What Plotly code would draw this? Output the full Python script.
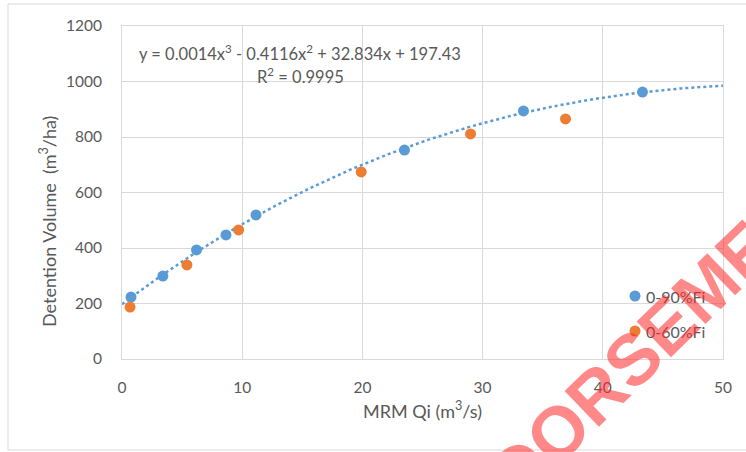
import numpy as np
import plotly.graph_objects as go

# Data
qi_90 = [0.75, 3.4, 6.2, 8.65, 11.15, 23.5, 33.4, 43.3]
vol_90 = [223, 299, 393, 447, 519, 753, 894, 962]
qi_60 = [0.67, 5.4, 9.7, 19.9, 29.0, 36.9]
vol_60 = [187, 339, 465, 674, 811, 865]
# Trendline coefficients (cubic, from the chart's equation)
trend_coef = [0.0014, -0.4116, 32.834, 197.43]
trend_range = [0, 50]

BLUE = "#5B9BD5"
ORANGE = "#ED7D31"
GRID = "#d9d9d9"
TXT = "#595959"
FONT = "Lato"

xt = np.linspace(trend_range[0], trend_range[1], 200)
yt = np.polyval(trend_coef, xt)

fig = go.Figure()
fig.add_trace(go.Scatter(x=xt, y=yt, mode="lines",
                         line=dict(color=BLUE, width=2.5, dash="dot"),
                         showlegend=False, hoverinfo="skip"))
fig.add_trace(go.Scatter(x=qi_90, y=vol_90, mode="markers", name="0-90%Fi",
                         marker=dict(color=BLUE, size=11), showlegend=False))
fig.add_trace(go.Scatter(x=qi_60, y=vol_60, mode="markers", name="0-60%Fi",
                         marker=dict(color=ORANGE, size=11), showlegend=False))

L, R, T, B = 122, 23, 26, 93
W, H = 746, 452
pw, ph = W - L - R, H - T - B

def px(xp):
    return (xp - L) / pw

def py(yp):
    return (H - B - yp) / ph

shapes = []
annotations = []
# Outer chart border
shapes.append(dict(type="rect", xref="paper", yref="paper",
                   x0=px(8), x1=px(760), y0=py(450), y1=py(4),
                   line=dict(color=GRID, width=1), fillcolor="rgba(0,0,0,0)", layer="below"))
# Manual legend
for name, col, yy in [("0-90%Fi", BLUE, 296), ("0-60%Fi", ORANGE, 331)]:
    shapes.append(dict(type="circle", xref="paper", yref="paper",
                       xsizemode="pixel", ysizemode="pixel",
                       xanchor=px(635), yanchor=py(yy),
                       x0=-5.5, x1=5.5, y0=-5.5, y1=5.5,
                       fillcolor=col, line=dict(color=col, width=0)))
    annotations.append(dict(xref="paper", yref="paper", x=px(644), y=py(yy),
                            xanchor="left", yanchor="middle", showarrow=False,
                            text=name, font=dict(family=FONT, size=16, color=TXT)))

annotations.append(dict(xref="paper", yref="paper", x=px(300), y=py(53),
                        xanchor="center", yanchor="middle", showarrow=False,
                        text="y = 0.0014x<sup>3</sup> - 0.4116x<sup>2</sup> + 32.834x + 197.43",
                        font=dict(family=FONT, size=16.5, color=TXT)))
annotations.append(dict(xref="paper", yref="paper", x=px(300), y=py(76),
                        xanchor="center", yanchor="middle", showarrow=False,
                        text="R<sup>2</sup> = 0.9995",
                        font=dict(family=FONT, size=16.5, color=TXT)))
# Y-axis title (placed as in the reference, slightly below the plot centre)
annotations.append(dict(xref="paper", yref="paper", x=px(48), y=py(222),
                        xanchor="center", yanchor="middle", showarrow=False,
                        text="Detention Volume  (m<sup>3</sup>/ha)", textangle=-90,
                        font=dict(family=FONT, size=18, color=TXT)))
# Watermark overlay
annotations.append(dict(xref="paper", yref="paper", x=px(630), y=py(362),
                        xanchor="center", yanchor="middle", showarrow=False,
                        text="<b>ENDORSEMENT</b>", textangle=-44,
                        font=dict(family="Liberation Sans", size=72, color="rgba(255,40,40,0.55)")))

fig.update_layout(
    width=W, height=H,
    margin=dict(l=L, r=R, t=T, b=B),
    paper_bgcolor="white", plot_bgcolor="white",
    font=dict(family=FONT, size=15.5, color=TXT),
    shapes=shapes, annotations=annotations,
    xaxis=dict(range=[0, 50], dtick=10, showgrid=True, gridcolor=GRID, gridwidth=1,
               zeroline=False, showline=True, mirror=True, linecolor=GRID,
               ticks="", ticklabelstandoff=14,
               title=dict(text="MRM Qi (m<sup>3</sup>/s)", standoff=10,
                          font=dict(family=FONT, size=18, color=TXT))),
    yaxis=dict(range=[0, 1200], dtick=200, showgrid=True, gridcolor=GRID, gridwidth=1,
               zeroline=False, showline=True, mirror=True, linecolor=GRID,
               ticks="", ticklabelstandoff=16),
)

fig.write_html("out.html")
